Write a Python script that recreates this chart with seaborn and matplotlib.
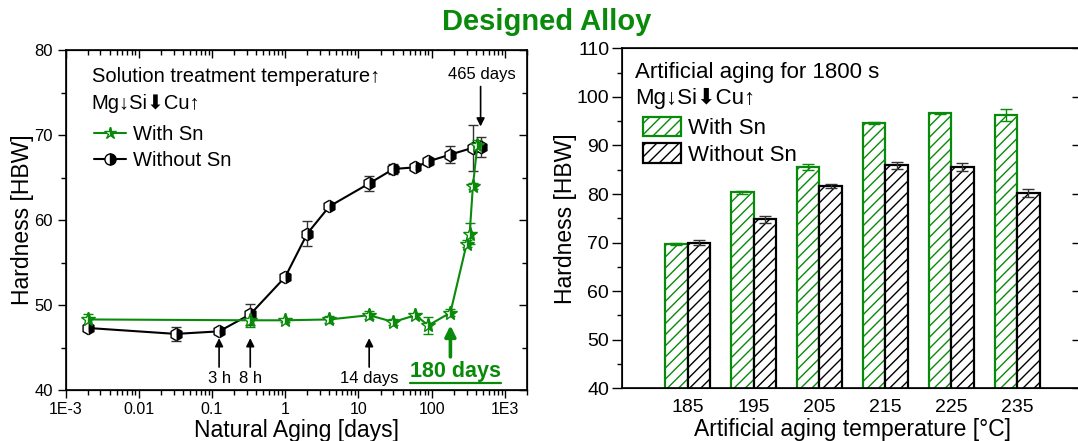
import numpy as np
import pandas as pd
import matplotlib
matplotlib.use('Agg')
import matplotlib.pyplot as plt
import seaborn as sns
from matplotlib.ticker import FixedLocator, LogLocator, MultipleLocator, NullFormatter
from matplotlib.patches import Patch
from matplotlib.lines import Line2D

# ---------------- data ----------------
# Left panel: natural aging
days_with_sn = [0.002, 0.333, 1, 4, 14, 30, 60, 90, 180, 300, 330, 365, 420]
hb_with_sn = [48.3, 48.2, 48.2, 48.3, 48.8, 48.0, 48.8, 47.6, 49.1, 57.2, 58.4, 64.0, 68.8]
err_with_sn = [0.6, 0.8, 0.2, 0.4, 0.5, 0.3, 0.2, 1.0, 0.4, 0.4, 1.2, 0.3, 0.6]

days_without_sn = [0.002, 0.032, 0.125, 0.333, 1, 2, 4, 14, 30, 60, 90, 180, 365, 465]
hb_without_sn = [47.3, 46.6, 46.9, 48.9, 53.3, 58.4, 61.6, 64.3, 66.0, 66.2, 66.9, 67.7, 68.5, 68.6]
err_without_sn = [0.3, 0.8, 0.2, 1.2, 0.3, 1.5, 0.3, 0.9, 0.6, 0.3, 0.4, 1.0, 2.7, 1.2]

x_ticks = [1e-3, 1e-2, 1e-1, 1, 10, 100, 1e3]
x_ticklabels = ['1E-3', '0.01', '0.1', '1', '10', '100', '1E3']

# arrow markers (x position in days, label)
arrow_marks = [(0.125, '3 h'), (0.333, '8 h'), (14, '14 days')]

# Right panel: artificial aging for 1800 s
temps = ['185', '195', '205', '215', '225', '235']
hb_art_with_sn = [69.8, 80.4, 85.5, 94.6, 96.6, 96.3]
err_art_with_sn = [0.2, 0.3, 0.6, 0.2, 0.1, 1.3]
hb_art_without_sn = [70.0, 74.8, 81.7, 85.9, 85.6, 80.2]
err_art_without_sn = [0.5, 0.7, 0.4, 0.7, 0.8, 0.9]

# ---------------- style ----------------
sns.set_style('ticks')
plt.rcParams['font.family'] = ['Liberation Sans', 'DejaVu Sans']
plt.rcParams['hatch.linewidth'] = 1.0
for k in ['text.color', 'axes.labelcolor', 'xtick.color', 'ytick.color', 'axes.edgecolor']:
    plt.rcParams[k] = 'black'
GREEN = '#0a8a0a'

W, H = 1078, 441
fig = plt.figure(figsize=(W / 100, H / 100), dpi=100)


def rect(l, t, r, b):
    return [l / W, 1 - b / H, (r - l) / W, (b - t) / H]


# ---------------- left panel ----------------
ax1 = fig.add_axes(rect(65.5, 50, 527, 390))
ax1.set_xscale('log')
ax1.set_xlim(1e-3, 2e3)
ax1.set_ylim(40, 80)

ax1.errorbar(days_without_sn, hb_without_sn, yerr=err_without_sn, fmt='none',
             ecolor='#333333', elinewidth=1.0, capsize=3.5, capthick=1.0, zorder=2)
ax1.errorbar(days_with_sn, hb_with_sn, yerr=err_with_sn, fmt='none',
             ecolor=GREEN, elinewidth=1.0, capsize=3.5, capthick=1.0, zorder=2)

sns.lineplot(x=days_without_sn, y=hb_without_sn, ax=ax1, color='black', lw=1.5,
             marker='h', markersize=9, fillstyle='right', markerfacecolor='black',
             markerfacecoloralt='white', markeredgecolor='black', markeredgewidth=1.0,
             errorbar=None, sort=False, zorder=3)
sns.lineplot(x=days_with_sn, y=hb_with_sn, ax=ax1, color=GREEN, lw=1.5,
             marker='*', markersize=10, fillstyle='right', markerfacecolor=GREEN,
             markerfacecoloralt='white', markeredgecolor=GREEN, markeredgewidth=1.0,
             errorbar=None, sort=False, zorder=4)

ax1.xaxis.set_major_locator(FixedLocator(x_ticks))
ax1.set_xticklabels(x_ticklabels)
ax1.xaxis.set_minor_locator(LogLocator(base=10, subs=np.arange(2, 10), numticks=20))
ax1.xaxis.set_minor_formatter(NullFormatter())
ax1.yaxis.set_major_locator(MultipleLocator(10))
ax1.yaxis.set_minor_locator(MultipleLocator(5))
ax1.tick_params(which='major', direction='out', length=6, width=1.0, labelsize=12, pad=3)
ax1.tick_params(which='minor', direction='out', length=3.5, width=1.0)
ax1.tick_params(axis='x', labelsize=11.5)
for s in ax1.spines.values():
    s.set_linewidth(1.2)
ax1.set_xlabel('Natural Aging [days]', fontsize=16.5, labelpad=1)
ax1.set_ylabel('Hardness [HBW]', fontsize=16.5, labelpad=0)

# inward ticks on top and right
ax1t = ax1.twiny()
ax1t.set_xscale('log')
ax1t.set_xlim(ax1.get_xlim())
ax1t.xaxis.set_major_locator(FixedLocator(x_ticks))
ax1t.xaxis.set_minor_locator(LogLocator(base=10, subs=np.arange(2, 10), numticks=20))
ax1t.tick_params(which='major', direction='in', length=6, width=1.0, labeltop=False)
ax1t.tick_params(which='minor', direction='in', length=3.5, width=1.0)
ax1r = ax1.twinx()
ax1r.set_ylim(ax1.get_ylim())
ax1r.yaxis.set_major_locator(MultipleLocator(10))
ax1r.yaxis.set_minor_locator(MultipleLocator(5))
ax1r.tick_params(which='major', direction='in', length=6, width=1.0, labelright=False)
ax1r.tick_params(which='minor', direction='in', length=3.5, width=1.0)

# header text + legend
ax1.text(0.057, 0.921, 'Solution treatment temperature\u2191', transform=ax1.transAxes,
         fontsize=14.5, va='center', ha='left')
ax1.text(0.057, 0.843, 'Mg\u2193Si\u2b07Cu\u2191', transform=ax1.transAxes,
         fontsize=14.5, va='center', ha='left')
h_with = Line2D([], [], color=GREEN, lw=1.5, marker='*', markersize=9, fillstyle='right',
                markerfacecolor=GREEN, markerfacecoloralt='white', markeredgecolor=GREEN)
h_without = Line2D([], [], color='black', lw=1.5, marker='o', markersize=8, fillstyle='right',
                   markerfacecolor='black', markerfacecoloralt='white', markeredgecolor='black')
ax1.legend([h_with, h_without], ['With Sn', 'Without Sn'], loc='upper left',
           bbox_to_anchor=(0.045, 0.803), frameon=False, fontsize=14.5,
           handlelength=1.55, handletextpad=0.35, labelspacing=0.35, borderaxespad=0)

# arrows
for xd, lab in arrow_marks:
    ax1.annotate('', xy=(xd, 46.1), xytext=(xd, 42.7),
                 arrowprops=dict(arrowstyle='-|>', color='black', lw=1.2, mutation_scale=12,
                                 shrinkA=0, shrinkB=0))
    ax1.text(xd, 41.4, lab, fontsize=12, ha='center', va='center')
ax1.annotate('', xy=(180, 47.6), xytext=(180, 43.9),
             arrowprops=dict(arrowstyle='-|>', color=GREEN, lw=2.6, mutation_scale=16,
                             shrinkA=0, shrinkB=0))
t180 = ax1.text(209, 42.2, '180 days', fontsize=15.5, fontweight='bold', color=GREEN,
                ha='center', va='center')
ax1.annotate('', xy=(465, 71.0), xytext=(465, 75.7),
             arrowprops=dict(arrowstyle='-|>', color='black', lw=1.2, mutation_scale=12,
                             shrinkA=0, shrinkB=0))
ax1.text(480, 77.1, '465 days', fontsize=12, ha='center', va='center')

# ---------------- right panel ----------------
ax2 = fig.add_axes(rect(621.7, 48.3, 1083, 388.3))
df = pd.DataFrame({
    'temp': temps * 2,
    'hb': hb_art_with_sn + hb_art_without_sn,
    'group': ['With Sn'] * len(temps) + ['Without Sn'] * len(temps),
})
sns.barplot(data=df, x='temp', y='hb', hue='group', ax=ax2, width=0.68,
            palette={'With Sn': 'white', 'Without Sn': 'white'}, errorbar=None,
            legend=False, linewidth=1.6, saturation=1)
colors = [GREEN, 'black']
errs = [err_art_with_sn, err_art_without_sn]
for cont, col, er in zip(ax2.containers, colors, errs):
    xs, ys = [], []
    for bar in cont:
        bar.set_edgecolor(col)
        bar.set_facecolor('white')
        bar.set_hatch('///')
        bar.set_linewidth(1.6)
        xs.append(bar.get_x() + bar.get_width() / 2)
        ys.append(bar.get_height())
    ax2.errorbar(xs, ys, yerr=er, fmt='none', ecolor=col if col != 'black' else '#333333',
                 elinewidth=1.0, capsize=4, capthick=1.0, zorder=5)

ax2.set_xlim(-1, 6)
ax2.set_ylim(40, 110)
ax2.yaxis.set_major_locator(MultipleLocator(10))
ax2.yaxis.set_minor_locator(MultipleLocator(5))
ax2.tick_params(axis='y', which='major', direction='out', length=7, width=1.0, labelsize=14, pad=2)
ax2.tick_params(axis='y', which='minor', direction='out', length=3.5, width=1.0)
ax2.tick_params(axis='x', length=0, labelsize=14, pad=8)
for s in ax2.spines.values():
    s.set_linewidth(1.2)
ax2.set_xlabel('Artificial aging temperature [\u00b0C]', fontsize=16.5, labelpad=1)
ax2.set_ylabel('Hardness [HBW]', fontsize=16.5, labelpad=0)

ax2r = ax2.twinx()
ax2r.set_ylim(ax2.get_ylim())
ax2r.yaxis.set_major_locator(MultipleLocator(10))
ax2r.tick_params(which='major', direction='in', length=8, width=1.0, labelright=False)
ax2r.tick_params(which='minor', length=0)

ax2.text(0.029, 0.930, 'Artificial aging for 1800 s', transform=ax2.transAxes,
         fontsize=16, va='center', ha='left')
ax2.text(0.029, 0.853, 'Mg\u2193Si\u2b07Cu\u2191', transform=ax2.transAxes,
         fontsize=16, va='center', ha='left')
p_with = Patch(facecolor='white', edgecolor=GREEN, hatch='///', linewidth=1.6)
p_without = Patch(facecolor='white', edgecolor='black', hatch='///', linewidth=1.6)
ax2.legend([p_with, p_without], ['With Sn', 'Without Sn'], loc='upper left',
           bbox_to_anchor=(0.026, 0.825), frameon=False, fontsize=16,
           handlelength=1.75, handleheight=0.95, handletextpad=0.3, labelspacing=0.2,
           borderaxespad=0)

# ---------------- title ----------------
fig.text(547 / W, 1 - 22 / H, 'Designed Alloy', fontsize=21, fontweight='bold',
         color=GREEN, ha='center', va='center')

# underline for "180 days"
fig.canvas.draw()
bb = t180.get_window_extent()
fig.add_artist(Line2D([bb.x0 / W, bb.x1 / W], [(bb.y0 - 1) / H, (bb.y0 - 1) / H],
                      color=GREEN, lw=1.6, transform=fig.transFigure))

fig.savefig('out.png', dpi=100)
